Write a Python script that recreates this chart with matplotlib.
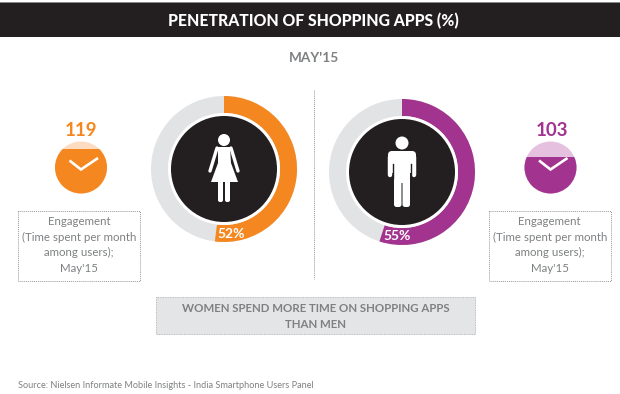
import matplotlib
matplotlib.use('Agg')
import matplotlib.pyplot as plt
from matplotlib.patches import Circle, Wedge, Rectangle, Polygon, FancyBboxPatch

plt.rcParams['font.family'] = ['Lato', 'DejaVu Sans']

# values
penetration = [52, 55]
engagement = [119, 103]
penetration_labels = ['52%', '55%']
title = 'PENETRATION OF SHOPPING APPS (%)'
subtitle = "MAY'15"
box_text = "Engagement\n(Time spent per month\namong users);\nMay'15"
note = 'WOMEN SPEND MORE TIME ON SHOPPING APPS\nTHAN MEN'
source = 'Source: Nielsen Informate Mobile Insights - India Smartphone Users Panel'

orange = '#F58720'
purple = '#A2338F'
orange_light = '#FBDCC0'
purple_light = '#E6C0DF'
black = '#231F20'
ring_grey = '#E2E3E4'
text_grey = '#7F8082'

fig = plt.figure(figsize=(6.2, 3.94), dpi=100, facecolor='white')
ax = fig.add_axes([0, 0, 1, 1])
# axis is in image pixels, y pointing down
ax.set_xlim(0, 620)
ax.set_ylim(394, 0)
ax.axis('off')

# header
ax.add_patch(Rectangle((0, 3), 620, 34, fc=black, ec='none'))
ax.add_patch(Rectangle((0, 2.4), 620, 1, fc='#8A8A8A', ec='none'))
ax.text(313, 21, title, color='white', fontsize=11.3, fontweight='black',
        ha='center', va='center')
ax.text(313.5, 57.5, subtitle, color=text_grey, fontsize=9.8, fontweight='bold',
        ha='center', va='center')


def donut(cx, cy, value, colour, label, label_x, label_y):
    ax.add_patch(Circle((cx, cy), 73, fc=ring_grey, ec='none'))
    # y axis is inverted so growing theta runs clockwise
    ax.add_patch(Wedge((cx, cy), 73, -90, -90 + 3.6 * value, width=17, fc=colour, ec='none'))
    ax.add_patch(Circle((cx, cy), 56, fc='white', ec='none'))
    ax.add_patch(Circle((cx, cy), 53, fc=black, ec='none'))
    ax.text(label_x, label_y, label, color='white', fontsize=10, fontweight='bold',
            ha='center', va='center')


def clock(cx, cy, cut, colour, light, value, text_x):
    ax.add_patch(Circle((cx, cy), 26, fc=light, ec='none'))
    full = Circle((cx, cy), 26, fc=colour, ec='none')
    ax.add_patch(full)
    clip = Rectangle((cx - 30, cut), 60, 60, transform=ax.transData)
    full.set_clip_path(clip)
    ax.plot([cx - 11.5, cx, cx + 17], [cy - 7, cy + 2, cy - 9.5], color='white', lw=1.9,
            solid_joinstyle='miter', solid_capstyle='butt')
    ax.text(text_x, 130, str(value), color=colour, fontsize=13.5, fontweight='bold',
            ha='center', va='center')


def info_box(x0, x1):
    ax.add_patch(Rectangle((x0, 210.5), x1 - x0, 70.5, fc='white', ec='#9A9A9A', lw=0.7,
                           ls=(0, (1, 1))))
    ax.text((x0 + x1) / 2, 245, box_text, color=text_grey, fontsize=8.3, ha='center',
            va='center', linespacing=1.5)


def woman(cx, cy):
    ax.add_patch(Circle((cx, cy - 29), 6, fc='white', ec='none'))
    ax.add_patch(Polygon([(cx - 6, cy - 22), (cx + 6, cy - 22), (cx + 7, cy - 6), (cx + 14, cy + 13),
                          (cx - 13, cy + 13), (cx - 6, cy - 6)], fc='white', ec='none'))
    for sx in (-1, 1):
        ax.plot([cx + sx * 7, cx + sx * 14], [cy - 21, cy + 2], color='white', lw=2.4,
                solid_capstyle='round')
    ax.add_patch(FancyBboxPatch((cx - 6, cy + 10), 5, 23, boxstyle='round,pad=0,rounding_size=2',
                                fc='white', ec='none'))
    ax.add_patch(FancyBboxPatch((cx + 1, cy + 10), 5, 23, boxstyle='round,pad=0,rounding_size=2',
                                fc='white', ec='none'))


def man(cx, cy):
    ax.add_patch(Circle((cx, cy - 29), 6.5, fc='white', ec='none'))
    ax.add_patch(FancyBboxPatch((cx - 14, cy - 21), 28, 22, boxstyle='round,pad=0,rounding_size=4',
                                fc='white', ec='none'))
    for sx in (-1, 1):
        ax.plot([cx + sx * 11.8, cx + sx * 11.8], [cy - 15, cy + 3], color='white', lw=3.2,
                solid_capstyle='round')
        ax.plot([cx + sx * 8.6, cx + sx * 8.6], [cy - 8, cy + 6], color=black, lw=1)
    ax.add_patch(Rectangle((cx - 8, cy - 21), 16, 32, fc='white', ec='none'))
    ax.add_patch(FancyBboxPatch((cx - 8, cy + 5), 7.5, 30, boxstyle='round,pad=0,rounding_size=2.5',
                                fc='white', ec='none'))
    ax.add_patch(FancyBboxPatch((cx + 0.5, cy + 5), 7.5, 30, boxstyle='round,pad=0,rounding_size=2.5',
                                fc='white', ec='none'))


donut(224, 169, penetration[0], orange, penetration_labels[0], 231.5, 234)
donut(402, 172, penetration[1], purple, penetration_labels[1], 397.5, 236)
woman(224, 169)
man(402, 172)

clock(81, 167.5, 148.5, orange, orange_light, engagement[0], 81)
clock(550.5, 167.5, 157, purple, purple_light, engagement[1], 552)

info_box(18, 140)
info_box(489, 610.5)

# divider between the two panels
ax.plot([313.7, 313.7], [90, 279], color='#9A9A9A', lw=0.7, ls=(0, (1, 1)))

# takeaway panel
ax.add_patch(Rectangle((156, 297), 319, 37, fc='#E4E5E6', ec='#A8A8A8', lw=0.6, ls=(0, (1, 1))))
ax.text(315.5, 316.5, note, color=text_grey, fontsize=8.25, fontweight='bold', ha='center',
        va='center', linespacing=1.6)

ax.text(18, 385, source, color=text_grey, fontsize=6.6, ha='left', va='center')

fig.savefig('out.png', dpi=100)
